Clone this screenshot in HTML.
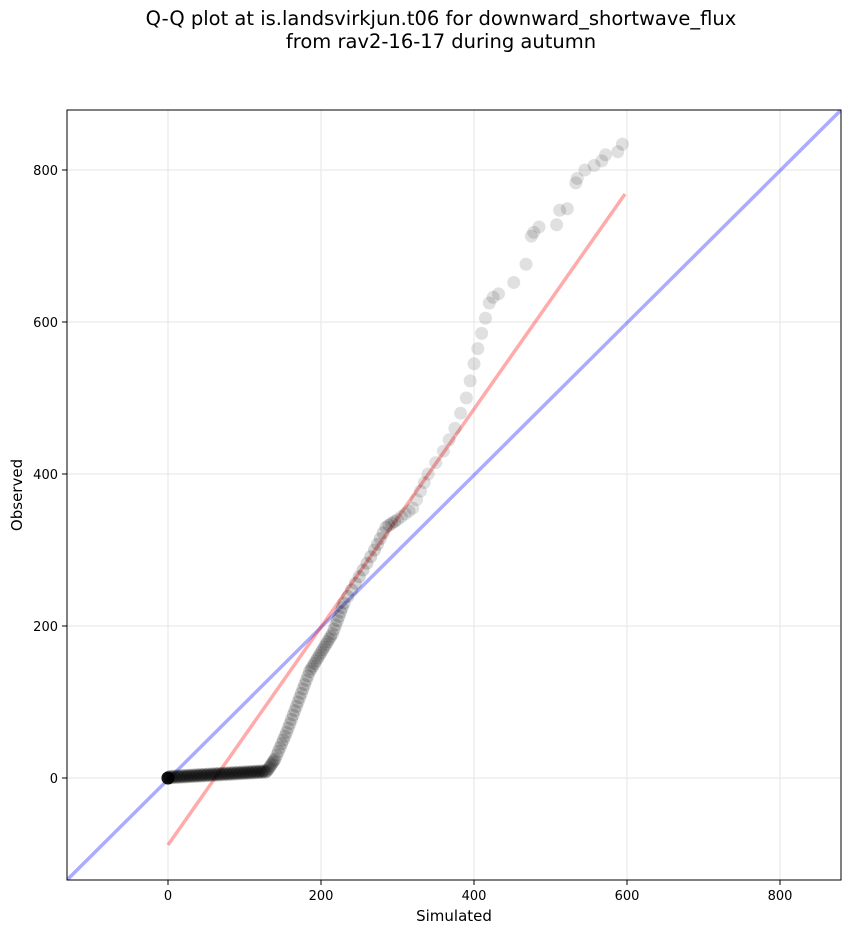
<!DOCTYPE html>
<html><head><meta charset="utf-8"><style>
body{margin:0;background:#fff;}
svg text{font-family:"DejaVu Sans","Liberation Sans",sans-serif;}
</style></head><body>
<svg id="s" width="851" height="934" xmlns="http://www.w3.org/2000/svg">
<rect width="851" height="934" fill="#fff"/>
<text x="441" y="25" font-size="19.5" text-anchor="middle">Q-Q plot at is.landsvirkjun.t06 for downward_shortwave_flux</text>
<text x="441" y="48" font-size="19.5" text-anchor="middle">from rav2-16-17 during autumn</text>
<defs><clipPath id="c"><rect x="67" y="110" width="774" height="770"/></clipPath></defs>
<g id="grid" stroke="#e6e6e6" stroke-width="1"></g>
<g clip-path="url(#c)">
<line x1="67" y1="880" x2="841" y2="110" stroke="#0000ff" stroke-opacity="0.33" stroke-width="3.5"/>
<line x1="168" y1="845" x2="625" y2="194" stroke="#ff0000" stroke-opacity="0.33" stroke-width="3.5"/>
<g id="pts"></g>
</g>
<rect x="67" y="110" width="774" height="770" fill="none" stroke="#000" stroke-width="1"/>
<g id="ticks" font-size="13"></g>
<text x="454" y="921" font-size="15" text-anchor="middle">Simulated</text>
<text x="22" y="495" font-size="15" text-anchor="middle" transform="rotate(-90 22 495)">Observed</text>
</svg>
<script>
const X=v=>168+v*0.765, Y=v=>778-v*0.76;
const ns="http://www.w3.org/2000/svg";
function el(p,t,a,txt){const e=document.createElementNS(ns,t);for(const k in a)e.setAttribute(k,a[k]);if(txt!==undefined)e.textContent=txt;p.appendChild(e);return e;}
const g=document.getElementById('grid'),tk=document.getElementById('ticks'),pts=document.getElementById('pts');
for(const v of [0,200,400,600,800]){
 el(g,'line',{x1:X(v),x2:X(v),y1:110,y2:880});
 el(g,'line',{x1:67,x2:841,y1:Y(v),y2:Y(v)});
 el(tk,'line',{x1:X(v),x2:X(v),y1:880,y2:885,stroke:'#000'});
 el(tk,'text',{x:X(v),y:900,'text-anchor':'middle'},v);
 el(tk,'line',{x1:62,x2:67,y1:Y(v),y2:Y(v),stroke:'#000'});
 el(tk,'text',{x:58,y:Y(v)+5,'text-anchor':'end'},v);
}
function add(x,y,o){el(pts,'circle',{cx:X(x),cy:Y(y),r:6.5,fill:'#000','fill-opacity':o});}
for(let i=0;i<6;i++)add(0,0,0.3);
for(let i=0;i<80;i++){const x=i*130/80;add(x,x*0.06+(i%3),0.2);}
const path=[[130,10],[140,25],[155,60],[170,100],[185,140],[200,165],[215,190],[230,230],[250,265],[270,300],[285,330],[300,340],[320,355],[340,400],[360,430],[375,460],[390,500],[400,545],[410,585],[420,625],[430,640]];
for(let i=0;i<path.length-1;i++){
 const [x0,y0]=path[i],[x1,y1]=path[i+1];
 const n=x0<230?7:(x0<340?4:2);
 for(let k=0;k<n;k++){const t=k/n;add(x0+(x1-x0)*t,y0+(y1-y0)*t,x0<300?0.17:0.12);}
}
const up=[[432,637],[452,652],[468,676],[475,713],[478,718],[485,725],[508,728],[512,747],[522,749],[533,783],[535,789],[545,800],[557,806],[567,812],[572,820],[588,824],[594,834]];
for(const [x,y] of up)add(x,y,0.12);
</script>
</body></html>
